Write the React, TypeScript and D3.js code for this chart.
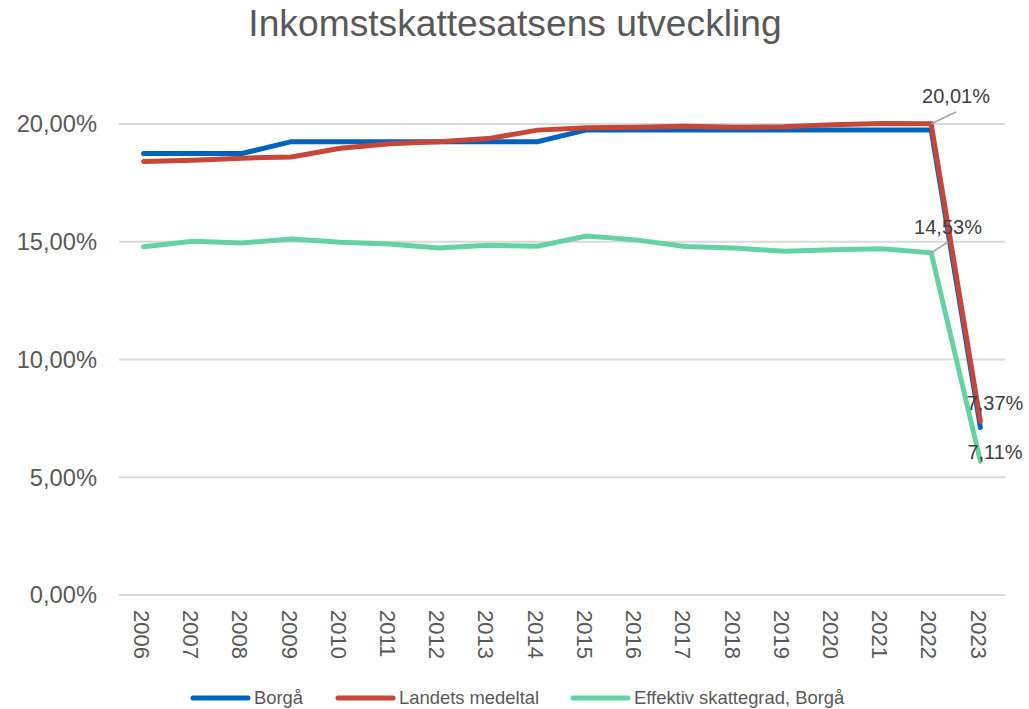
import React from "react";
import * as d3 from "d3";

const years = ["2006","2007","2008","2009","2010","2011","2012","2013","2014","2015","2016","2017","2018","2019","2020","2021","2022","2023"];
const borga = [18.75,18.75,18.75,19.25,19.25,19.25,19.25,19.25,19.25,19.75,19.75,19.75,19.75,19.75,19.75,19.75,19.75,7.11];
const landets = [18.41,18.46,18.55,18.6,18.97,19.16,19.25,19.38,19.74,19.84,19.86,19.9,19.86,19.88,19.97,20.02,20.01,7.37];
const effektiv = [14.79,15.02,14.95,15.12,14.98,14.9,14.74,14.85,14.81,15.24,15.08,14.8,14.73,14.6,14.66,14.7,14.53,5.68];
const yTicks = [0, 5, 10, 15, 20];
const seriesNames = ["Borgå", "Landets medeltal", "Effektiv skattegrad, Borgå"];
const colors = ["#0064BE", "#C84637", "#64D2A5"];

const fmt = (v: number) => v.toFixed(2).replace(".", ",") + "%";

export default function App() {
  const W = 1029, H = 709;
  const x = d3.scaleBand<string>().domain(years).range([119, 1005]);
  const y = d3.scaleLinear().domain([0, 20]).range([595, 124]);
  const cx = (d: string) => (x(d) as number) + x.bandwidth() / 2;
  const line = d3.line<number>().x((_, i) => cx(years[i])).y((v) => y(v));
  const data = [borga, landets, effektiv];
  const font = "'Liberation Sans', Arial, sans-serif";
  const last = years.length - 1;
  const legendX = [193, 338, 573];

  return (
    <div style={{ position: "absolute", left: 0, top: 0 }}>
      <svg width={W} height={H} style={{ display: "block", background: "#fff" }} fontFamily={font}>
        <text x={515} y={36} textAnchor="middle" fontSize={37.2} fill="#595959">Inkomstskattesatsens utveckling</text>
        {yTicks.map((t) => (
          <g key={t}>
            <line x1={119} x2={1005} y1={y(t)} y2={y(t)} stroke="#D9D9D9" strokeWidth={2} />
            <text x={97} y={y(t)} dy="0.35em" textAnchor="end" fontSize={23.7} fill="#595959">{fmt(t)}</text>
          </g>
        ))}
        {years.map((yr) => (
          <text key={yr} transform={`translate(${cx(yr) - 2},610) rotate(90)`} dy="0.35em" textAnchor="start" fontSize={22} fill="#595959">{yr}</text>
        ))}
        {data.map((s, i) => (
          <path key={i} d={line(s) as string} fill="none" stroke={colors[i]} strokeWidth={5} strokeLinecap="round" strokeLinejoin="miter" />
        ))}
        {/* data labels */}
        <line x1={cx(years[last - 1])} y1={y(landets[last - 1])} x2={956} y2={112} stroke="#A6A6A6" strokeWidth={1.5} />
        <text x={956} y={96} dy="0.35em" textAnchor="middle" fontSize={20} fill="#404040">{fmt(landets[last - 1])}</text>
        <line x1={cx(years[last - 1])} y1={y(effektiv[last - 1])} x2={948} y2={242} stroke="#A6A6A6" strokeWidth={1.5} />
        <text x={948} y={227} dy="0.35em" textAnchor="middle" fontSize={20} fill="#404040">{fmt(effektiv[last - 1])}</text>
        <text x={995} y={403} dy="0.35em" textAnchor="middle" fontSize={20} fill="#404040">{fmt(landets[last])}</text>
        <text x={995} y={452} dy="0.35em" textAnchor="middle" fontSize={20} fill="#404040">{fmt(borga[last])}</text>
        {/* legend */}
        {seriesNames.map((n, i) => (
          <g key={n}>
            <line x1={legendX[i]} x2={legendX[i] + 55} y1={698} y2={698} stroke={colors[i]} strokeWidth={5} strokeLinecap="round" />
            <text x={legendX[i] + 61} y={698} dy="0.35em" fontSize={18.4} fill="#595959">{n}</text>
          </g>
        ))}
      </svg>
    </div>
  );
}
